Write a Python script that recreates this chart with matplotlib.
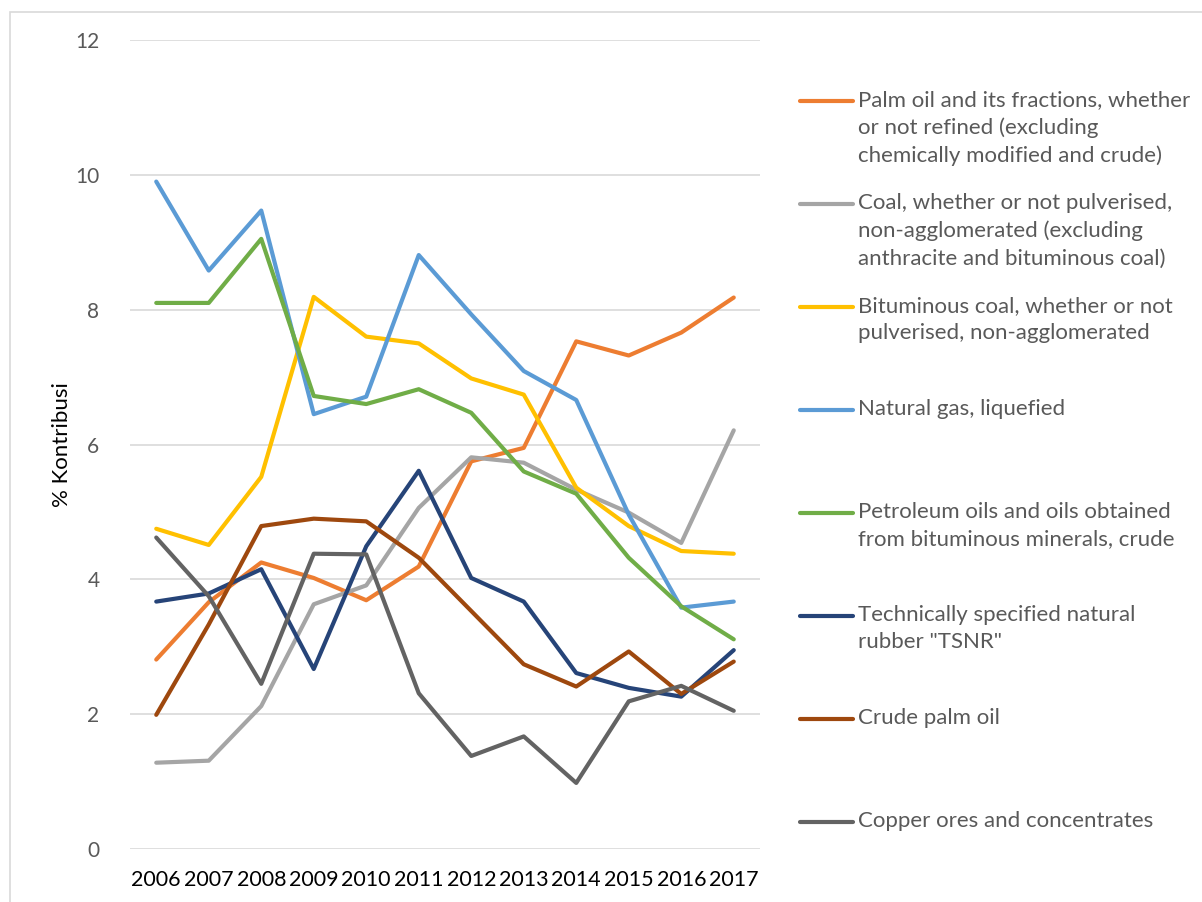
import matplotlib
matplotlib.use("Agg")
import matplotlib.pyplot as plt
from matplotlib.lines import Line2D
from matplotlib.patches import Rectangle

plt.rcParams['font.family'] = ['Lato', 'DejaVu Sans']

years = [2006, 2007, 2008, 2009, 2010, 2011, 2012, 2013, 2014, 2015, 2016, 2017]

palm_oil_fractions = [2.81, 3.66, 4.25, 4.02, 3.69, 4.19, 5.75, 5.95, 7.53, 7.32, 7.66, 8.18]
coal = [1.28, 1.31, 2.12, 3.63, 3.91, 5.06, 5.81, 5.73, 5.33, 4.99, 4.54, 6.21]
bituminous_coal = [4.75, 4.51, 5.52, 8.19, 7.60, 7.50, 6.98, 6.74, 5.36, 4.79, 4.42, 4.38]
natural_gas = [9.90, 8.58, 9.47, 6.45, 6.71, 8.81, 7.93, 7.09, 6.66, 4.96, 3.58, 3.67]
petroleum_oils = [8.10, 8.10, 9.05, 6.72, 6.60, 6.82, 6.47, 5.60, 5.27, 4.32, 3.60, 3.11]
tsnr_rubber = [3.67, 3.79, 4.15, 2.67, 4.49, 5.61, 4.02, 3.67, 2.61, 2.39, 2.26, 2.95]
crude_palm_oil = [1.99, 3.33, 4.79, 4.90, 4.86, 4.32, 3.53, 2.74, 2.41, 2.93, 2.30, 2.78]
copper_ores = [4.62, 3.75, 2.45, 4.38, 4.37, 2.31, 1.38, 1.67, 0.98, 2.19, 2.42, 2.05]

series = [
    ("Palm oil and its fractions, whether\nor not refined (excluding\nchemically modified and crude)",
     palm_oil_fractions, "#ED7D31"),
    ("Coal, whether or not pulverised,\nnon-agglomerated (excluding\nanthracite and bituminous coal)",
     coal, "#A5A5A5"),
    ("Bituminous coal, whether or not\npulverised, non-agglomerated",
     bituminous_coal, "#FFC000"),
    ("Natural gas, liquefied", natural_gas, "#5B9BD5"),
    ("Petroleum oils and oils obtained\nfrom bituminous minerals, crude",
     petroleum_oils, "#70AD47"),
    ("Technically specified natural\nrubber \"TSNR\"", tsnr_rubber, "#264478"),
    ("Crude palm oil", crude_palm_oil, "#9E480E"),
    ("Copper ores and concentrates", copper_ores, "#636363"),
]

W, H = 1202, 902
fig = plt.figure(figsize=(W / 100, H / 100), dpi=100)
ax = fig.add_axes([130 / W, 1 - 849 / H, 630 / W, 809 / H])

x = list(range(len(years)))
for label, vals, color in series:
    ax.plot(x, vals, color=color, lw=3.0, solid_capstyle='round', solid_joinstyle='round')

ax.set_xlim(-0.5, len(years) - 0.5)
ax.set_ylim(0, 12)
ax.set_yticks(range(0, 13, 2))
ax.set_xticks(x)
ax.set_xticklabels([str(y) for y in years])
ax.grid(axis='y', color='#D9D9D9', lw=1.2)
ax.set_axisbelow(True)
for s in ax.spines.values():
    s.set_visible(False)
ax.tick_params(axis='both', length=0)
ax.tick_params(axis='y', colors='#595959', labelsize=15, pad=22)
ax.tick_params(axis='x', colors='black', labelsize=15.5, pad=15)
ax.set_ylabel("% Kontribusi", fontsize=16, color='black', labelpad=2)

# legend drawn by hand so the swatch sits on the first line of each entry
for i, (label, vals, color) in enumerate(series):
    yc = 1 - (101 + 103 * i) / H
    fig.add_artist(Line2D([800 / W, 853 / W], [yc, yc], color=color, lw=3.0,
                          solid_capstyle='round', transform=fig.transFigure))
    fig.text(858 / W, yc + 11 / H, label, fontsize=16, color='#595959',
             va='top', ha='left', linespacing=1.46)

# chart frame
fig.add_artist(Rectangle((10 / W, -0.05), 1.2, 1 - 12 / H + 0.05, transform=fig.transFigure,
                         fill=False, edgecolor='#D9D9D9', lw=1.2))

fig.savefig("out.png", dpi=100, facecolor='white')
